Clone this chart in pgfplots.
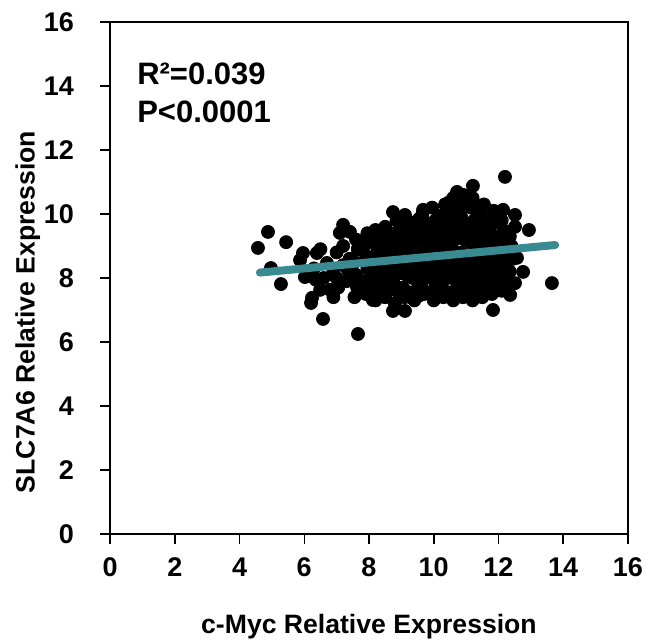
\documentclass[border=0pt]{standalone}
\usepackage{pgfplots}
\pgfplotsset{compat=1.18}
\usepackage{fontspec}
\setmainfont{Liberation Sans}
\definecolor{fitline}{RGB}{58,138,145}

\begin{document}
\begin{tikzpicture}
\begin{axis}[
    scale only axis,
    width=259pt, height=256pt,
    xmin=0, xmax=16, ymin=0, ymax=16,
    xtick={0,2,...,16}, ytick={0,2,...,16},
    tick align=outside,
    xtick pos=bottom, ytick pos=left,
    major tick length=5pt,
    axis line style={line width=0.75pt},
    every tick/.style={line width=0.75pt, black},
    /pgf/number format/assume math mode=true,
    tick label style={font=\fontsize{13.5}{15}\selectfont\bfseries},
    yticklabel style={xshift=-9.5pt},
    xticklabel style={yshift=-3.5pt},
    xlabel={c-Myc Relative Expression},
    ylabel={SLC7A6 Relative Expression},
    label style={font=\fontsize{13.3}{15}\selectfont\bfseries},
    xlabel style={yshift=-11.5pt},
    ylabel style={yshift=-5pt, xshift=-17pt},
    clip=false, clip marker paths=true,
]
% scatter
\addplot[only marks, mark=*, mark size=3.25pt, black] coordinates {
(4.57,8.94) (4.88,9.44) (5.44,9.12) (4.97,8.31) (5.28,7.81) (6.58,6.72)
(7.66,6.25) (6.24,7.38) (8.74,6.97) (9.11,6.97) (12.2,11.16) (11.21,10.88)
(13.65,7.84) (11.83,7.0) (12.94,9.5) (12.14,10.13) (12.51,9.97) (12.51,9.6)
(12.57,8.63) (12.76,8.19) (12.51,7.84) (12.36,7.47) (8.74,10.06) (9.11,9.97)
(9.67,10.13) (10.72,10.69) (8.12,7.31) (7.63,7.72) (7.41,9.44) (7.88,9.13)
(5.96,8.78) (6.39,8.78) (7.20,9.66) (7.10,9.41) (6.21,7.22) (5.87,8.56)
(6.02,8.03) (6.49,7.63) (6.80,7.63) (6.89,8.16) (6.70,8.47) (6.30,8.30)
(6.60,8.00) (7.00,8.00) (7.20,8.40) (7.30,7.90) (7.20,9.00) (7.00,8.80)
(6.50,8.90) (6.90,7.40) (7.40,8.60) (6.35,7.95) (7.05,7.70) (7.35,8.25)
(7.55,7.40) (7.65,7.80) (7.60,8.10) (7.55,8.50) (7.65,8.90) (7.60,9.20)
(7.90,7.50) (7.85,7.90) (7.95,8.30) (7.90,8.60) (7.85,9.00) (7.95,9.40)
(8.20,7.30) (8.25,7.70) (8.15,8.00) (8.20,8.40) (8.25,8.80) (8.15,9.10) (8.20,9.50)
(8.50,7.40) (8.45,7.80) (8.55,8.20) (8.50,8.50) (8.45,8.90) (8.55,9.30) (8.50,9.60)
(8.80,7.20) (8.85,7.60) (8.75,7.90) (8.80,8.30) (8.85,8.70) (8.75,9.00) (8.80,9.40) (8.85,9.80)
(9.10,7.40) (9.05,7.70) (9.15,8.10) (9.10,8.40) (9.05,8.80) (9.15,9.20) (9.10,9.50) (9.05,9.90)
(9.40,7.30) (9.45,7.60) (9.35,8.00) (9.40,8.30) (9.45,8.70) (9.35,9.00) (9.40,9.40) (9.45,9.70)
(9.70,7.50) (9.65,7.90) (9.75,8.20) (9.70,8.60) (9.65,8.90) (9.75,9.30) (9.70,9.60) (9.65,10.00)
(10.00,7.30) (10.05,7.70) (9.95,8.00) (10.00,8.40) (10.05,8.80) (9.95,9.10) (10.00,9.50) (10.05,9.80) (9.95,10.20)
(10.30,7.40) (10.25,7.80) (10.35,8.10) (10.30,8.50) (10.25,8.90) (10.35,9.20) (10.30,9.60) (10.25,9.90) (10.35,10.30)
(10.60,7.30) (10.65,7.60) (10.55,8.00) (10.60,8.30) (10.65,8.70) (10.55,9.00) (10.60,9.40) (10.65,9.80) (10.55,10.10) (10.60,10.50)
(10.90,7.40) (10.85,7.80) (10.95,8.10) (10.90,8.50) (10.85,8.80) (10.95,9.20) (10.90,9.60) (10.85,9.90) (10.95,10.30) (10.90,10.60)
(11.20,7.30) (11.25,7.70) (11.15,8.00) (11.20,8.40) (11.25,8.70) (11.15,9.10) (11.20,9.50) (11.25,9.80) (11.15,10.20) (11.20,10.50)
(11.50,7.40) (11.45,7.80) (11.55,8.20) (11.50,8.50) (11.45,8.90) (11.55,9.30) (11.50,9.60) (11.45,10.00) (11.55,10.30)
(11.80,7.50) (11.85,7.90) (11.75,8.30) (11.80,8.60) (11.85,9.00) (11.75,9.40) (11.80,9.70) (11.85,10.10)
(12.10,7.60) (12.05,8.00) (12.15,8.40) (12.10,8.80) (12.05,9.10) (12.15,9.50) (12.10,9.80)
(12.40,7.80) (12.35,8.20) (12.45,8.60) (12.40,9.00) (12.35,9.30)
(8.05,7.65) (8.35,7.55) (8.65,7.65) (8.95,7.50) (9.25,7.55) (9.55,7.45) (9.85,7.55)
(10.15,7.50) (10.45,7.55) (10.75,7.45) (11.05,7.55) (11.35,7.50) (11.65,7.60) (11.95,7.70)
(8.05,8.15) (8.35,8.05) (8.65,8.10) (8.95,8.15) (9.25,8.05) (9.55,8.15) (9.85,8.05)
(10.15,8.20) (10.45,8.05) (10.75,8.15) (11.05,8.25) (11.35,8.10) (11.65,8.05) (11.95,8.15) (12.25,8.00)
(8.05,8.65) (8.35,8.70) (8.65,8.65) (8.95,8.55) (9.25,8.60) (9.55,8.55) (9.85,8.70)
(10.15,8.65) (10.45,8.70) (10.75,8.55) (11.05,8.65) (11.35,8.70) (11.65,8.65) (11.95,8.55) (12.25,8.70)
(8.05,9.25) (8.35,9.15) (8.65,9.20) (8.95,9.15) (9.25,9.25) (9.55,9.20) (9.85,9.25)
(10.15,9.30) (10.45,9.15) (10.75,9.25) (11.05,9.30) (11.35,9.20) (11.65,9.15) (11.95,9.25) (12.25,9.20)
(9.25,9.75) (9.55,9.85) (9.85,9.70) (10.15,9.95) (10.45,9.75) (10.75,10.00) (11.05,9.70)
(11.35,9.95) (11.65,9.80) (11.95,9.90) (10.45,10.35) (10.75,10.35) (11.05,10.45) (11.35,10.25)
};
% regression line
\addplot[fitline, line width=4pt, line cap=round] coordinates {(4.63,8.17) (13.75,9.03)};
\node[anchor=north west, inner sep=0pt, align=left,
      font=\fontsize{15.5}{19}\selectfont\bfseries] at (axis cs:0.83,14.75)
      {R²=0.039\\P<0.0001};
\coordinate (bl) at (rel axis cs:-0.2124,-0.209);
\coordinate (tr) at (rel axis cs:1.0367,1.043);
\end{axis}
\pgfresetboundingbox
\path (bl) rectangle (tr);
\end{tikzpicture}
\end{document}
